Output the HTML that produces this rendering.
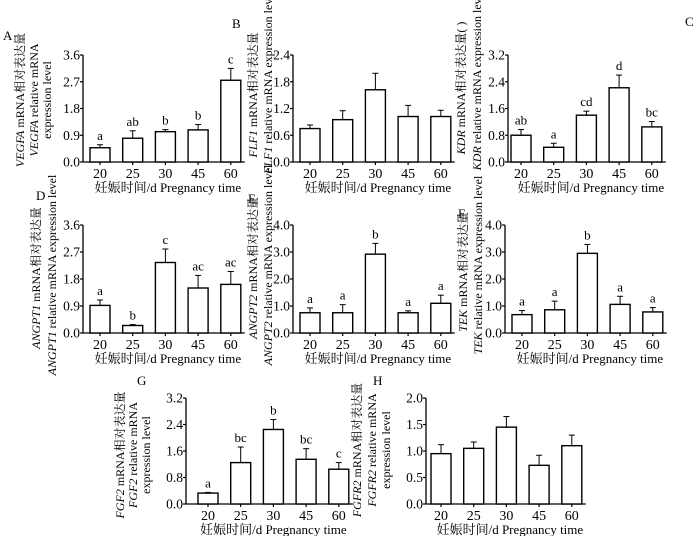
<!DOCTYPE html>
<html><head><meta charset="utf-8">
<style>
body{margin:0;background:#fff;}
svg{display:block;font-family:"Liberation Serif","Noto Serif CJK SC","Noto Sans CJK SC",serif;}
</style></head>
<body>
<svg id="fig" width="700" height="536" viewBox="0 0 700 536"></svg>
<script>
const categories = ["20","25","30","45","60"];
const valsA = [0.48,0.80,1.02,1.08,2.75];
const errsA = [0.10,0.25,0.07,0.18,0.40];
const letA = ["a","ab","b","b","c"];
const ticksA = [0,0.9,1.8,2.7,3.6];
const valsB = [0.75,0.95,1.62,1.02,1.02];
const errsB = [0.08,0.20,0.37,0.25,0.14];
const letB = ["","","","",""];
const ticksB = [0,0.6,1.2,1.8,2.4];
const valsC = [0.80,0.44,1.40,2.22,1.05];
const errsC = [0.17,0.12,0.12,0.38,0.16];
const letC = ["ab","a","cd","d","bc"];
const ticksC = [0,0.8,1.6,2.4,3.2];
const valsD = [0.92,0.25,2.35,1.50,1.62];
const errsD = [0.18,0.03,0.45,0.42,0.43];
const letD = ["a","b","c","ac","ac"];
const ticksD = [0,0.9,1.8,2.7,3.6];
const valsE = [0.75,0.75,2.92,0.75,1.10];
const errsE = [0.18,0.30,0.40,0.07,0.30];
const letE = ["a","a","b","a","a"];
const ticksE = [0,1,2,3,4];
const valsF = [0.68,0.86,2.95,1.06,0.78];
const errsF = [0.15,0.32,0.33,0.30,0.16];
const letF = ["a","a","b","a","a"];
const ticksF = [0,1,2,3,4];
const valsG = [0.33,1.25,2.25,1.35,1.05];
const errsG = [0.02,0.47,0.30,0.32,0.20];
const letG = ["a","bc","b","bc","c"];
const ticksG = [0,0.8,1.6,2.4,3.2];
const valsH = [0.95,1.05,1.45,0.73,1.10];
const errsH = [0.17,0.12,0.20,0.19,0.20];
const letH = ["","","","",""];
const ticksH = [0,0.5,1,1.5,2];

const NS="http://www.w3.org/2000/svg";
const svg=document.getElementById('fig');
function mk(tag,attrs,parent,txt){const e=document.createElementNS(NS,tag);for(const k in attrs)e.setAttribute(k,attrs[k]);if(txt!==undefined)e.textContent=txt;(parent||svg).appendChild(e);return e;}

function panel(id,ax,top,zero,x0,vals,errs,lets,ticks,dec,letter,lp,ylines){
  const g=mk('g',{});
  
  
  const ymax=ticks[ticks.length-1];
  const yS=v=>zero-(v/ymax)*(zero-top);
  const step=32.7;
  const xS=i=>x0+i*step;
  const xend=xS(4)+14;
  const ya=mk('line',{x1:ax,y1:top,x2:ax,y2:zero,stroke:'#000','stroke-width':1.3},g);
  
  
  const xa=mk('line',{x1:ax,y1:zero,x2:xend,y2:zero,stroke:'#000','stroke-width':1.3},g);
  
  
  ticks.forEach(t=>{
    mk('line',{x1:ax-3,y1:yS(t),x2:ax,y2:yS(t),stroke:'#000','stroke-width':1.2},g);
    const tl=mk('text',{x:ax-3,y:yS(t)+4.5,'font-size':13.5,'text-anchor':'end'},g,t.toFixed(dec));
    
    
  });
  categories.forEach((c,i)=>{
    mk('line',{x1:xS(i),y1:zero,x2:xS(i),y2:zero+3,stroke:'#000','stroke-width':1.2},g);
    const tl=mk('text',{x:xS(i),y:zero+16,'font-size':14,'text-anchor':'middle'},g,c);
    
    
    const v=vals[i],e=errs[i];
    const b=mk('rect',{x:xS(i)-10,y:yS(v),width:20,height:zero-yS(v),fill:'#fff',stroke:'#000','stroke-width':1.4},g);
    
    
    mk('line',{x1:xS(i),y1:yS(v),x2:xS(i),y2:yS(v+e),stroke:'#000','stroke-width':1},g);
    mk('line',{x1:xS(i)-3,y1:yS(v+e),x2:xS(i)+3,y2:yS(v+e),stroke:'#000','stroke-width':1},g);
    if(lets[i]){
      const l=mk('text',{x:xS(i),y:yS(v+e)-5,'font-size':13,'text-anchor':'middle'},g,lets[i]);
      
      
    }
  });
  const xl=mk('text',{x:(ax+xend)/2+4,y:zero+30,'font-size':13,'text-anchor':'middle'},g,'妊娠时间/d Pregnancy time');
  
  
  const pl=mk('text',{x:lp[0],y:lp[1],'font-size':13},g,letter);
  
  
  ylines.forEach(([x,cy,parts])=>{
    const t=mk('text',{transform:`translate(${x},${cy}) rotate(-90)`,'font-size':12,'text-anchor':'middle'},g);
    
    
    parts.forEach(([s,it])=>{mk('tspan',it?{'font-style':'italic'}:{},t,s);});
  });
}
panel('a',83,55,162,100,valsA,errsA,letA,ticksA,1,'A',[3,40],
 [[24,100,[['VEGFA',1],[' mRNA相对表达量',0]]],[38,100,[['VEGFA',1],[' relative mRNA',0]]],[51,100,[['expression level',0]]]]);
panel('b',293,55,162,310,valsB,errsB,letB,ticksB,1,'B',[232,28],
 [[257,95,[['FLF1',1],[' mRNA相对表达量',0]]],[272,82,[['FLF1',1],[' relative mRNA expression level',0]]]]);
panel('c',508,55,162,521,valsC,errsC,letC,ticksC,1,'C',[685,26],
 [[465,88,[['KDR',1],[' mRNA相对表达量( )',0]]],[481,80,[['KDR',1],[' relative mRNA expression level',0]]]]);
panel('d',83,225,333,100,valsD,errsD,letD,ticksD,1,'D',[36,200],
 [[40,278,[['ANGPT1',1],[' mRNA相对表达量',0]]],[56,275,[['ANGPT1',1],[' relative mRNA expression level',0]]]]);
panel('e',293,225,333,310,valsE,errsE,letE,ticksE,1,'E',[248,203],
 [[257,268,[['ANGPT2',1],[' mRNA相对表达量',0]]],[272,265,[['ANGPT2',1],[' relative mRNA expression level',0]]]]);
panel('f',505,225,333,522,valsF,errsF,letF,ticksF,1,'F',[458,218],
 [[467,272,[['TEK',1],[' mRNA相对表达量',0]]],[482,265,[['TEK',1],[' relative mRNA expression level',0]]]]);
panel('g',186,398,504,208,valsG,errsG,letG,ticksG,1,'G',[137,385],
 [[124,455,[['FGF2',1],[' mRNA相对表达量',0]]],[137,455,[['FGF2',1],[' relative mRNA',0]]],[150,455,[['expression level',0]]]]);
panel('h',426,398,504,441,valsH,errsH,letH,ticksH,1,'H',[373,385],
 [[361,450,[['FGFR2',1],[' mRNA相对表达量',0]]],[376,450,[['FGFR2',1],[' relative mRNA',0]]],[390,450,[['expression level',0]]]]);
</script>
</body></html>
